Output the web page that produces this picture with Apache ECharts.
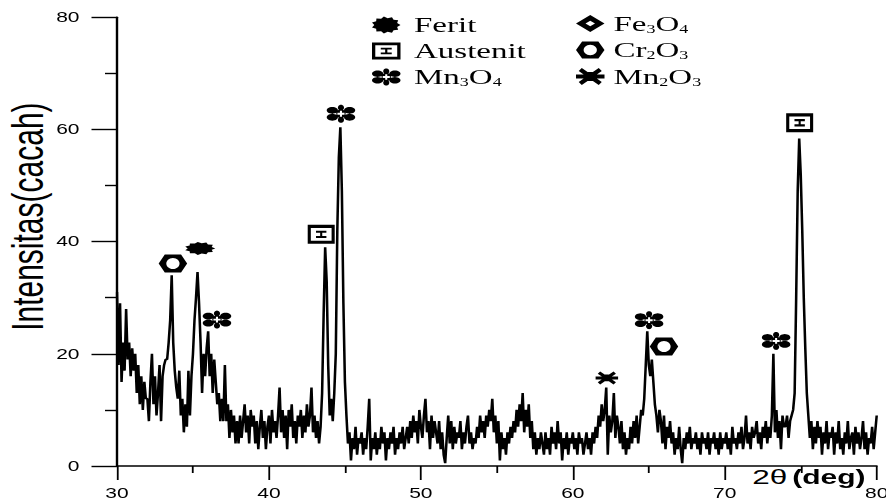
<!DOCTYPE html>
<html>
<head>
<meta charset="utf-8">
<script src="https://cdn.jsdelivr.net/npm/echarts@6/dist/echarts.min.js"></script>
<style>
  html, body { margin: 0; padding: 0; background: #fff; overflow: hidden; }
  #wrap { width: 886px; height: 504px; overflow: hidden; }
  /* the plot is laid out narrow and widened horizontally, giving the wide lettering */
  #chart { width: 590.667px; height: 504px; transform: scaleX(1.5); transform-origin: 0 0; }
</style>
</head>
<body>
<div id="wrap"><div id="chart"></div></div>
<script>
// ---- XRD pattern: intensity sampled every 0.1 deg of 2-theta, from 30 to 80 ----
const thetaStart = 30;
const thetaStep = 0.1;
const intensity = [
  31, 18, 29, 15, 22, 17, 28, 19, 22, 16,
  21, 17, 20, 13, 18, 11, 16, 10, 15, 12,
  12, 8, 15, 20, 11, 16, 9, 13, 18, 8,
  16, 18, 19, 19, 22, 26, 34, 22, 17, 14,
  12, 17, 9, 12, 6, 11, 7, 17, 9, 16,
  20, 26, 30, 34.6, 29, 22, 13, 20, 16, 21,
  24, 16, 20, 13, 19, 15, 11, 13, 8, 12,
  8, 18, 8, 11, 5, 10, 6, 9, 4, 8,
  4, 9, 5, 8, 11, 6, 9, 4, 10, 7,
  9, 4, 8, 3, 7, 10, 5, 8, 3, 7,
  9, 4, 10, 6, 8, 5, 9, 14, 6, 10,
  5, 9, 3, 10, 7, 11, 5, 8, 4, 9,
  7, 10, 5, 9, 6, 11, 7, 9, 14, 6,
  9, 5, 8, 4, 7, 13, 27, 39, 33, 18,
  9, 12, 8, 13, 20, 42, 55, 60.4, 49, 29,
  15, 9, 4, 6, 1, 5, 3, 7, 2, 5,
  4, 6, 2, 5, 3, 7, 12, 1, 5, 3,
  6, 2, 5, 3, 7, 4, 6, 1, 5, 3,
  6, 4, 7, 2, 5, 3, 6, 4, 7, 3,
  5, 7, 4, 8, 5, 9, 6, 8, 4, 10,
  7, 5, 9, 12, 6, 8, 3, 9, 5, 8,
  6, 4, 8, 3, 6, 2, 0.5, 5, 9, 4,
  8, 3, 7, 4, 6, 5, 8, 3, 6, 4,
  7, 9, 4, 6, 3, 5, 4, 7, 5, 9,
  6, 8, 5, 9, 7, 10, 8, 12, 6, 9,
  4, 8, 1, 6, 3, 5, 2, 6, 4, 7,
  5, 8, 6, 10, 7, 11, 8, 13, 6, 10,
  7, 11, 5, 8, 3, 6, 2, 5, 3, 6,
  4, 2, 6, 3, 5, 2, 7, 4, 6, 3,
  8, 4, 6, 1, 5, 3, 6, 2, 5, 4,
  6, 3, 5, 2, 6, 4, 5, 2, 4, 6,
  3, 5, 2, 6, 4, 7, 5, 9, 7, 11,
  8, 10, 14, 2, 9, 6, 8, 13, 5, 9,
  7, 4, 8, 3, 6, 2, 5, 3, 7, 4,
  8, 5, 9, 4, 7, 10, 9, 12, 18, 24,
  18, 16, 19, 15, 11, 9, 6, 10, 8, 4,
  9, 3, 7, 5, 8, 4, 6, 2, 5, 3,
  7, 3, 0.5, 5, 3, 6, 4, 7, 3, 5,
  4, 6, 3, 5, 2, 6, 4, 5, 3, 6,
  2, 5, 4, 6, 3, 5, 2, 6, 3, 5,
  4, 6, 3, 5, 2, 7, 4, 5, 3, 6,
  4, 7, 3, 5, 9, 4, 6, 3, 7, 5,
  6, 8, 4, 6, 3, 7, 5, 8, 4, 7,
  5, 9, 20, 6, 10, 5, 8, 3, 9, 7,
  7, 9, 5, 8, 9, 10, 13, 30, 49, 58.4,
  52, 42, 30, 21, 13, 9, 5, 8, 3, 7,
  4, 8, 5, 7, 2, 6, 4, 8, 3, 6,
  5, 7, 2, 6, 4, 8, 3, 5, 2, 6,
  4, 8, 3, 5, 6, 2, 7, 4, 6, 3,
  5, 8, 3, 6, 2, 5, 4, 7, 3, 6,
  9
];

// ---- phase markers placed above the identified reflections [2theta, height] ----
const feritPeaks    = [[35.48, 38.8]];
const austenitPeaks = [[43.44, 41.3], [74.93, 61.2]];
const mn3o4Peaks    = [[36.58, 26.1], [44.74, 62.8], [65.02, 26.0], [73.38, 22.3]];
const fe3o4Peaks    = [];
const cr2o3Peaks    = [[33.68, 36.1], [66.0, 21.3]];
const mn2o3Peaks    = [[62.24, 15.7]];

// ---- symbol outlines (holes are drawn with reversed winding) ----
function poly(pts) {
  return 'M' + pts.map(p => p[0].toFixed(2) + ' ' + p[1].toFixed(2)).join(' L') + ' Z ';
}
function oval(cx, cy, rx, ry, ccw) {
  const pts = [];
  for (let k = 0; k < 28; k++) {
    const a = (ccw ? -1 : 1) * k * Math.PI / 14;
    pts.push([cx + rx * Math.cos(a), cy + ry * Math.sin(a)]);
  }
  return poly(pts);
}
function burst(n, rx, ry, inner) {
  const pts = [];
  for (let i = 0; i < 2 * n; i++) {
    const a = i * Math.PI / n, r = i % 2 ? inner : 1;
    pts.push([rx * r * Math.cos(a), ry * r * Math.sin(a)]);
  }
  return poly(pts);
}
function arm(len, w, deg) {
  const a = deg * Math.PI / 180, c = Math.cos(a), s = Math.sin(a);
  return poly([[-1, -w / 2], [len, -w / 2], [len, w / 2], [-1, w / 2]]
    .map(([x, y]) => [x * c - y * s, x * s + y * c]));
}

const SYM_FERIT = 'path://' + burst(11, 14, 7, 0.8);
const SYM_AUSTENIT = 'path://' +
  poly([[0, 0], [26, 0], [26, 18], [0, 18]]) +
  poly([[3, 3], [3, 15], [23, 15], [23, 3]]) +
  poly([[8, 5.5], [18, 5.5], [18, 7.5], [14, 7.5], [14, 10.5], [18, 10.5], [18, 12.5],
        [8, 12.5], [8, 10.5], [12, 10.5], [12, 7.5], [8, 7.5]]);
const SYM_MN3O4 = 'path://' +
  oval(0, 0, 4.6, 4.6) +
  oval(0, -6.3, 3, 3) + oval(0, 6.3, 3, 3) +
  oval(-8.5, -3.6, 5.5, 3.5) + oval(-8.5, 3.6, 5.5, 3.5) +
  oval(8.5, -3.6, 5.5, 3.5) + oval(8.5, 3.6, 5.5, 3.5) +
  poly([[-1, -1], [-3.5, -1], [-3.5, 1], [-1, 1], [-1, 3], [1, 3], [1, 1],
        [3.5, 1], [3.5, -1], [1, -1], [1, -3], [-1, -3]]);
const SYM_FE3O4 = 'path://' +
  poly([[0, -12], [12, 0], [0, 12], [-12, 0]]) +
  poly([[0, -4], [-4, 0], [0, 4], [4, 0]]);
const SYM_CR2O3 = 'path://' +
  poly([[-14, 0], [-8, -9], [8, -9], [14, 0], [8, 9], [-8, 9]]) +
  oval(0, 0, 6.5, 5.5, true);
const SYM_MN2O3 = 'path://' +
  arm(12, 4, 0) + arm(12, 4, 180) +
  arm(11, 4, -40) + arm(11, 4, 40) + arm(11, 4, 140) + arm(11, 4, 220) +
  arm(4.5, 4, -90) + arm(4.5, 4, 90);

// chemical formulas: digits become subscripts
function formula(name) {
  return name.replace(/(\D+)|(\d)/g, (m, t, d) => t ? '{t|' + t + '}' : '{s|' + d + '}');
}
const legendText = {
  color: '#000',
  fontFamily: 'Liberation Serif',
  fontSize: 22,
  rich: {
    t: { fontFamily: 'Liberation Serif', fontSize: 22, lineHeight: 22, color: '#000' },
    s: { fontFamily: 'Liberation Serif', fontSize: 12, lineHeight: 12, verticalAlign: 'bottom', color: '#000' }
  }
};

const SX = 1.5;
const chart = echarts.init(document.getElementById('chart'), null,
  { renderer: 'svg', width: 886 / SX, height: 504 });

const black = '#000';
const tickFont = { color: black, fontFamily: 'Liberation Sans', fontSize: 14 };

function markerSeries(name, data, symbol, size) {
  return {
    type: 'scatter', name, data, symbol, symbolSize: size,
    itemStyle: { color: black, opacity: 1 }, z: 5, silent: true
  };
}

chart.setOption({
  animation: false,
  backgroundColor: '#fff',
  grid: { left: 78, right: 6.2, top: 17.3, bottom: 38, outerBoundsMode: 'none', containLabel: false },
  xAxis: {
    type: 'value', min: 30, max: 80, interval: 10,
    name: '{a|2θ} {b|(deg)}',
    nameLocation: 'end', nameGap: -83, nameMoveOverlap: false,
    nameTextStyle: {
      align: 'left', verticalAlign: 'top', padding: [0, 0, 0, 0],
      rich: {
        a: { fontFamily: 'Liberation Sans', fontSize: 21, color: black },
        b: { fontFamily: 'Liberation Sans', fontSize: 20, fontWeight: 'bold', color: black }
      }
    },
    axisLine: { show: true, onZero: false, lineStyle: { color: black, width: 1.6 } },
    axisTick: { show: true, length: 14, lineStyle: { color: black, width: 1.2 } },
    minorTick: { show: true, splitNumber: 2, length: 7, lineStyle: { color: black, width: 1.2 } },
    axisLabel: Object.assign({ margin: 20 }, tickFont),
    splitLine: { show: false }
  },
  yAxis: {
    type: 'value', min: 0, max: 80, interval: 20,
    name: 'Intensitas(cacah)',
    nameLocation: 'middle', nameRotate: 90, nameGap: 45, nameMoveOverlap: false,
    nameTextStyle: {
      fontFamily: 'Liberation Sans', fontSize: 30, lineHeight: 30, color: black,
      padding: [0, 0, 0, 50]
    },
    axisLine: { show: true, lineStyle: { color: black, width: 1.6 } },
    axisTick: { show: true, length: 17, lineStyle: { color: black, width: 1.4 } },
    minorTick: { show: true, splitNumber: 2, length: 8, lineStyle: { color: black, width: 1.4 } },
    axisLabel: Object.assign({ margin: 25 }, tickFont),
    splitLine: { show: false }
  },
  legend: [
    {
      data: [
        { name: 'Ferit', icon: SYM_FERIT },
        { name: 'Austenit', icon: SYM_AUSTENIT },
        { name: 'Mn3O4', icon: SYM_MN3O4 }
      ],
      orient: 'vertical', left: 243, top: 9,
      itemWidth: 19, itemHeight: 17, itemGap: 4, symbolKeepAspect: false,
      selectedMode: false, formatter: formula,
      textStyle: Object.assign({ padding: [0, 0, 0, 4] }, legendText)
    },
    {
      data: [
        { name: 'Fe3O4', icon: SYM_FE3O4 },
        { name: 'Cr2O3', icon: SYM_CR2O3 },
        { name: 'Mn2O3', icon: SYM_MN2O3 }
      ],
      orient: 'vertical', left: 379, top: 7.5,
      itemWidth: 19, itemHeight: 17, itemGap: 4.5, symbolKeepAspect: false,
      selectedMode: false, formatter: formula,
      textStyle: Object.assign({ padding: [0, 0, 0, 1] }, legendText)
    }
  ],
  series: [
    {
      type: 'line', name: 'XRD',
      data: intensity.map((v, i) => [+(thetaStart + i * thetaStep).toFixed(2), v]),
      showSymbol: false, symbol: 'none',
      lineStyle: { color: black, width: 1.7 },
      z: 2, silent: true
    },
    markerSeries('Ferit', feritPeaks, SYM_FERIT, [20, 13]),
    markerSeries('Austenit', austenitPeaks, SYM_AUSTENIT, [18, 19]),
    markerSeries('Mn3O4', mn3o4Peaks, SYM_MN3O4, [19, 18]),
    markerSeries('Fe3O4', fe3o4Peaks, SYM_FE3O4, [17, 22]),
    markerSeries('Cr2O3', cr2o3Peaks, SYM_CR2O3, [19, 18]),
    markerSeries('Mn2O3', mn2o3Peaks, SYM_MN2O3, [15, 13])
  ]
});
</script>
</body>
</html>
